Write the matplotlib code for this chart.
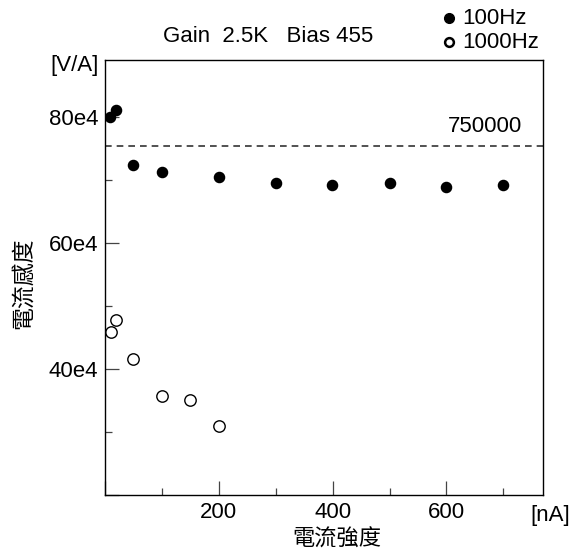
import matplotlib
matplotlib.use('Agg')
import matplotlib.pyplot as plt
from matplotlib.ticker import MultipleLocator, FuncFormatter

plt.rcParams['font.family'] = ['Liberation Sans', 'Noto Sans CJK TC', 'DejaVu Sans']

# 100Hz
x_100 = [9, 19, 50, 100, 200, 300, 398, 500, 600, 700]
y_100 = [80.0e4, 81.2e4, 72.4e4, 71.3e4, 70.5e4, 69.6e4, 69.3e4, 69.6e4, 69.0e4, 69.2e4]
# 1000Hz
x_1000 = [10, 19, 50, 100, 149, 200]
y_1000 = [45.9e4, 47.8e4, 41.6e4, 35.8e4, 35.1e4, 30.9e4]

ref_value = 755000
ref_label = '750000'

fig = plt.figure(figsize=(5.81, 5.51), dpi=100)
ax = fig.add_axes([0.1807, 0.1016, 0.7543, 0.7895])

ax.plot(x_100, y_100, 'o', color='black', ms=7.3, ls='none')
ax.plot(x_1000, y_1000, 'o', mfc='white', mec='black', mew=1.0, ms=8.2, ls='none')
ax.axhline(ref_value, color='#333333', ls=(0, (4, 3)), lw=1.2)
ax.text(0.952, ref_value + 1.3e4, ref_label, ha='right', va='bottom', fontsize=16,
        transform=ax.get_yaxis_transform())

ax.set_xlim(0, 770)
ax.set_ylim(20e4, 89.1e4)
ax.xaxis.set_major_locator(MultipleLocator(200))
ax.xaxis.set_minor_locator(MultipleLocator(100))
ax.yaxis.set_major_locator(MultipleLocator(20e4))
ax.yaxis.set_minor_locator(MultipleLocator(10e4))
ax.xaxis.set_major_formatter(FuncFormatter(lambda v, p: '' if v == 0 else '%d' % v))
ax.yaxis.set_major_formatter(FuncFormatter(lambda v, p: '' if v < 30e4 else '%de4' % round(v / 1e4)))
ax.tick_params(which='both', direction='in', top=False, right=False, labelsize=16, width=0.9,
               color='#444444')
ax.tick_params(which='major', length=10, pad=5)
ax.tick_params(which='minor', length=5)
for s in ax.spines.values():
    s.set_linewidth(1.0)
    s.set_color('black')

fig.text(99 / 581, 1 - 66 / 551, '[V/A]', ha='right', va='center', fontsize=16)
fig.text(268 / 581, 1 - 37 / 551, 'Gain  2.5K   Bias 455', ha='center', va='center', fontsize=16)
fig.text(550 / 581, 1 - 516 / 551, '[nA]', ha='center', va='center', fontsize=16)
fig.text(337 / 581, 1 - 539 / 551, '電流強度', ha='center', va='center', fontsize=16,
         family=['Noto Sans CJK TC', 'DejaVu Sans'])
fig.text(24 / 581, 1 - 283 / 551, '電流感度', ha='center', va='center', rotation=90, fontsize=16.5,
         family=['Noto Sans CJK TC', 'DejaVu Sans'])

# legend
fig.lines.append(plt.Line2D([449 / 581], [1 - 18 / 551], marker='o', color='black', ms=7,
                            transform=fig.transFigure, ls='none'))
fig.lines.append(plt.Line2D([449 / 581], [1 - 42 / 551], marker='o', mfc='white', mec='black',
                            mew=1.8, ms=6.3, transform=fig.transFigure, ls='none'))
fig.text(462 / 581, 1 - 18 / 551, '100Hz', ha='left', va='center', fontsize=16)
fig.text(462 / 581, 1 - 42 / 551, '1000Hz', ha='left', va='center', fontsize=16)

fig.savefig('out.png', dpi=100)
